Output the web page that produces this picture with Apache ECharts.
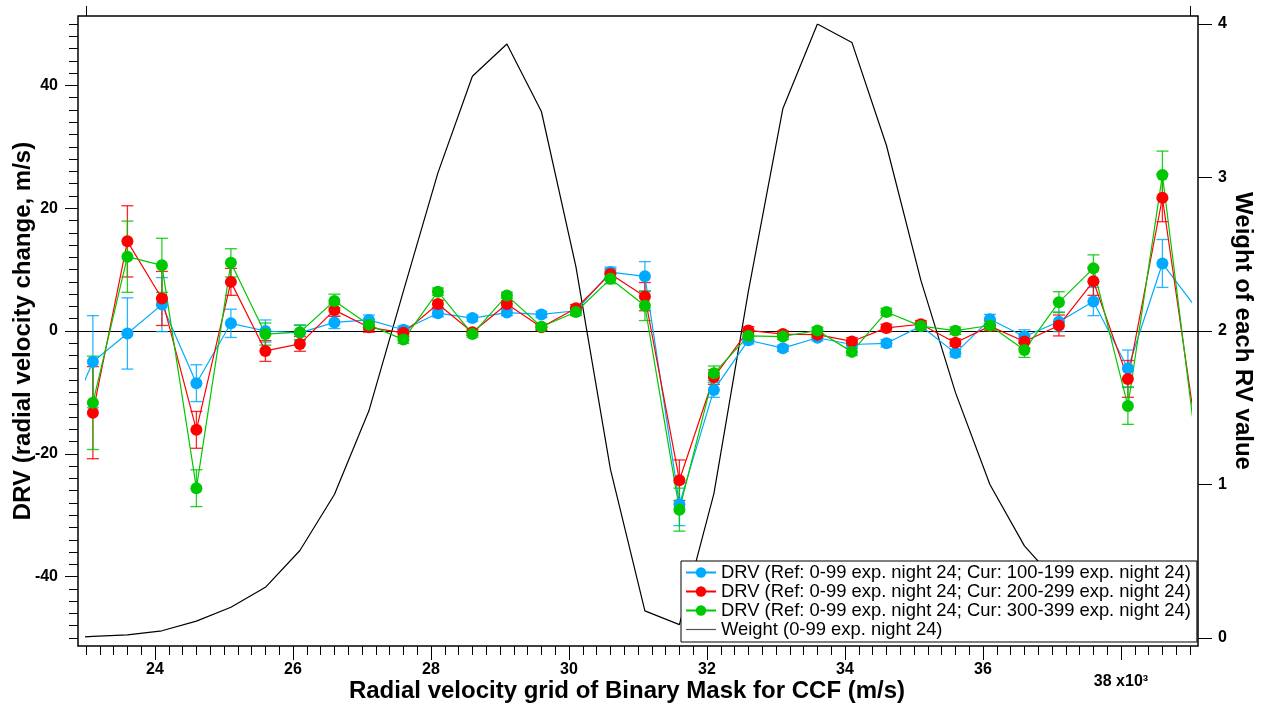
<!DOCTYPE html>
<html><head><meta charset="utf-8">
<script src="https://cdn.jsdelivr.net/npm/echarts@6/dist/echarts.min.js"></script>
<style>html,body{margin:0;padding:0;background:#fff}#c{width:1268px;height:711px}</style>
</head><body><div id="c"></div>
<script>
// ---- data ----
const RV_GRID = [22600,23100,23600,24100,24600,25100,25600,26100,26600,27100,27600,28100,28600,29100,29600,30100,30600,31100,31600,32100,32600,33100,33600,34100,34600,35100,35600,36100,36600,37100,37600,38100,38600,39100];
const DRV_100 = [-18, -5.0, -0.4, 4.3, -8.5, 1.25, 0.0, -0.3, 1.4, 1.8, 0.2, 2.9, 2.1, 3.0, 2.7, 3.3, 9.6, 8.9, -28.2, -9.6, -1.5, -2.8, -1.1, -2.2, -2.0, 0.8, -3.6, 1.9, -0.9, 1.5, 4.8, -6.1, 11.0, 3.6];
const DRV_200 = [null, -13.3, 14.6, 5.3, -16.1, 8.0, -3.25, -2.1, 3.4, 0.6, -0.3, 4.4, -0.2, 4.4, 0.6, 3.7, 9.3, 5.6, -24.3, -7.5, 0.1, -0.5, -0.6, -1.7, 0.5, 1.1, -1.9, 0.8, -1.7, 0.9, 8.1, -7.8, 21.7, -17.4];
const DRV_300 = [null, -11.7, 12.1, 10.7, -25.6, 11.1, -0.5, -0.2, 4.9, 1.0, -1.4, 6.4, -0.5, 5.8, 0.7, 3.1, 8.5, 4.1, -29.1, -6.9, -0.8, -0.9, 0.1, -3.4, 3.1, 0.8, 0.05, 0.9, -3.1, 4.7, 10.2, -12.2, 25.4, -19.7];
const ERR_100 = [9, 7.5, 5.8, 4.4, 3.0, 2.3, 1.8, 1.2, 1.0, 0.8, 0.6, 0.6, 0.5, 0.5, 0.5, 0.6, 0.8, 2.4, 3.5, 1.2, 0.6, 0.5, 0.5, 0.6, 0.6, 0.6, 0.6, 0.8, 1.1, 1.6, 2.3, 3.0, 3.9, 5.0];
const ERR_200 = [9, 7.5, 5.8, 4.4, 3.0, 2.2, 1.7, 1.2, 1.0, 0.8, 0.6, 0.6, 0.5, 0.5, 0.5, 0.6, 0.8, 2.3, 3.3, 1.2, 0.6, 0.5, 0.5, 0.6, 0.6, 0.6, 0.6, 0.8, 1.1, 1.7, 2.3, 3.0, 3.9, 5.0];
const ERR_300 = [9, 7.6, 5.8, 4.4, 3.0, 2.3, 1.8, 1.2, 1.1, 0.8, 0.6, 0.6, 0.5, 0.5, 0.5, 0.6, 0.8, 2.4, 3.5, 1.2, 0.6, 0.5, 0.5, 0.6, 0.6, 0.6, 0.6, 0.8, 1.2, 1.7, 2.2, 3.0, 3.9, 5.0];
const WEIGHT = [0.0, 0.01, 0.02, 0.047, 0.11, 0.2, 0.33, 0.57, 0.935, 1.48, 2.26, 3.03, 3.66, 3.87, 3.43, 2.42, 1.1, 0.177, 0.087, 0.94, 2.26, 3.45, 4.0, 3.88, 3.21, 2.33, 1.6, 1.0, 0.6, 0.35, 0.2, 0.11, 0.06, 0.03];
const X_MAJOR_TICKS = [24000, 26000, 28000, 30000, 32000, 34000, 36000, 38000];
const Y_MAJOR_TICKS = [-40, -20, 0, 20, 40];
const W_TICKS_MAX = 4;
const NAMES = [
  'DRV (Ref: 0-99 exp. night 24; Cur: 100-199 exp. night 24)',
  'DRV (Ref: 0-99 exp. night 24; Cur: 200-299 exp. night 24)',
  'DRV (Ref: 0-99 exp. night 24; Cur: 300-399 exp. night 24)',
  'Weight (0-99 exp. night 24)'
];

// ---- layout / style ----
const FONT = "'Liberation Sans', Arial, Helvetica, sans-serif";
const GRID = {left: 86, right: 78, top: 24, bottom: 73};
const OFF = 8;
const COLORS = ['#00aaff', '#ff0000', '#00c800'];

const chart = echarts.init(document.getElementById('c'), null, {renderer: 'canvas'});

function pairs(ys) {
  const out = [];
  RV_GRID.forEach((x, i) => { out.push([x, ys[i] === null ? null : ys[i]]); });
  return out;
}
function errData(ys, es) {
  const out = [];
  RV_GRID.forEach((x, i) => { if (ys[i] !== null) out.push([x, ys[i], es[i]]); });
  return out;
}
function errRender(color) {
  return function (params, api) {
    const x = api.value(0), y = api.value(1), e = api.value(2);
    const p1 = api.coord([x, y + e]), p2 = api.coord([x, y - e]);
    const hw = 6;
    const st = {stroke: color, lineWidth: 1.3, opacity: 0.85};
    return {type: 'group', children: [
      {type: 'line', shape: {x1: p1[0], y1: p1[1], x2: p2[0], y2: p2[1]}, style: st},
      {type: 'line', shape: {x1: p1[0] - hw, y1: p1[1], x2: p1[0] + hw, y2: p1[1]}, style: st},
      {type: 'line', shape: {x1: p2[0] - hw, y1: p2[1], x2: p2[0] + hw, y2: p2[1]}, style: st}
    ]};
  };
}

const DRV_SETS = [[DRV_100, ERR_100], [DRV_200, ERR_200], [DRV_300, ERR_300]];
const series = [{
  name: NAMES[3], type: 'line', xAxisIndex: 0, yAxisIndex: 2,
  data: pairs(WEIGHT), symbol: 'none', showSymbol: false,
  lineStyle: {color: '#000', width: 1.2}, itemStyle: {color: '#555'}, z: 1
}];
DRV_SETS.forEach((s, i) => {
  series.push({
    name: 'err' + i, type: 'custom', xAxisIndex: 0, yAxisIndex: 0,
    data: errData(s[0], s[1]), renderItem: errRender(COLORS[i]), clip: true, z: 2
  });
  series.push({
    name: NAMES[i], type: 'line', xAxisIndex: 0, yAxisIndex: 0,
    data: pairs(s[0]), symbol: 'circle', symbolSize: 12, connectNulls: false,
    lineStyle: {color: COLORS[i], width: 1.2}, itemStyle: {color: COLORS[i]}, z: 2
  });
});

const lblStyle = {color: '#000', fontFamily: FONT, fontWeight: 'bold', fontSize: 16};
const nameStyle = {color: '#000', fontFamily: FONT, fontWeight: 'bold', fontSize: 24};
const noLine = {show: false, onZero: false};

const option = {
  animation: false,
  backgroundColor: '#fff',
  grid: {left: GRID.left, right: GRID.right, top: GRID.top, bottom: GRID.bottom,
         containLabel: false, outerBoundsMode: 'none'},
  legend: {
    data: [
      {name: NAMES[0]}, {name: NAMES[1]}, {name: NAMES[2]},
      {name: NAMES[3], icon: 'path://M0,0H100V4H0Z'}
    ],
    orient: 'vertical', left: 681, top: 561,
    itemGap: 0, itemWidth: 30, itemHeight: 13,
    padding: [2, 6, 3, 4],
    backgroundColor: '#fff', borderColor: '#000', borderWidth: 1,
    textStyle: {fontFamily: FONT, fontSize: 18.4, lineHeight: 19, color: '#000'},
    z: 10
  },
  xAxis: [
    { type: 'value', min: 23000, max: 39000, interval: 200, position: 'bottom', offset: OFF,
      axisLine: noLine, axisTick: {show: true, length: 9, lineStyle: {color: '#000', width: 1}},
      axisLabel: {show: false}, splitLine: {show: false} },
    { type: 'value', min: 23000, max: 39000, position: 'bottom', offset: OFF,
      axisLine: noLine,
      axisTick: {show: true, customValues: X_MAJOR_TICKS, length: 14, lineStyle: {color: '#000', width: 1}},
      axisLabel: Object.assign({show: true, customValues: X_MAJOR_TICKS, margin: 16,
        formatter: v => v === 38000 ? '{lo|38 x10³}' : String(v / 1000),
        rich: {lo: {fontFamily: FONT, fontWeight: 'bold', fontSize: 16, color: '#000', padding: [12, 0, 0, 0]}}
      }, lblStyle),
      splitLine: {show: false},
      name: 'Radial velocity grid of Binary Mask for CCF (m/s)', nameLocation: 'middle', nameGap: 33,
      nameMoveOverlap: false,
      nameTextStyle: Object.assign({padding: [0, 22, 0, 0]}, nameStyle) },
    { type: 'value', min: 23000, max: 39000, position: 'top', offset: OFF,
      axisLine: noLine,
      axisTick: {show: true, customValues: [23000, 39000], length: 10, lineStyle: {color: '#000', width: 1}},
      axisLabel: {show: false}, splitLine: {show: false} }
  ],
  yAxis: [
    { type: 'value', min: -50, max: 50, interval: 2, position: 'left', offset: OFF,
      axisLine: noLine, axisTick: {show: true, length: 9, lineStyle: {color: '#000', width: 1}},
      axisLabel: {show: false}, splitLine: {show: false} },
    { type: 'value', min: -50, max: 50, position: 'left', offset: OFF,
      axisLine: noLine,
      axisTick: {show: true, customValues: Y_MAJOR_TICKS, length: 13, lineStyle: {color: '#000', width: 1}},
      axisLabel: Object.assign({show: true, customValues: Y_MAJOR_TICKS, margin: 20}, lblStyle),
      splitLine: {show: false},
      name: 'DRV (radial velocity change, m/s)', nameLocation: 'middle', nameGap: 43,
      nameMoveOverlap: false,
      nameTextStyle: nameStyle },
    { type: 'value', min: 0, max: W_TICKS_MAX, interval: 1, position: 'right', offset: OFF,
      axisLine: noLine,
      axisTick: {show: true, length: 14, lineStyle: {color: '#000', width: 1}},
      axisLabel: Object.assign({show: true, margin: 20}, lblStyle),
      splitLine: {show: false},
      name: 'Weight of each RV value', nameLocation: 'middle', nameGap: 33, nameRotate: -90,
      nameMoveOverlap: false,
      nameTextStyle: nameStyle }
  ],
  series: series
};
chart.setOption(option);

// frame box and zero line, positioned from the grid and the axis scale
const W = chart.getWidth(), H = chart.getHeight();
const fx0 = GRID.left - OFF, fx1 = W - GRID.right + OFF;
const fy0 = GRID.top - OFF, fy1 = H - GRID.bottom + OFF;
const y0 = Math.round(chart.convertToPixel({yAxisIndex: 0}, 0)) + 0.5;
chart.setOption({
  graphic: [
    {type: 'line', z: 1, shape: {x1: fx0, y1: y0, x2: fx1, y2: y0}, style: {stroke: '#000', lineWidth: 1}},
    {type: 'rect', z: 5, shape: {x: fx0, y: fy0, width: fx1 - fx0, height: fy1 - fy0},
     style: {fill: null, stroke: '#000', lineWidth: 1.5}}
  ]
});
</script>
</body></html>
